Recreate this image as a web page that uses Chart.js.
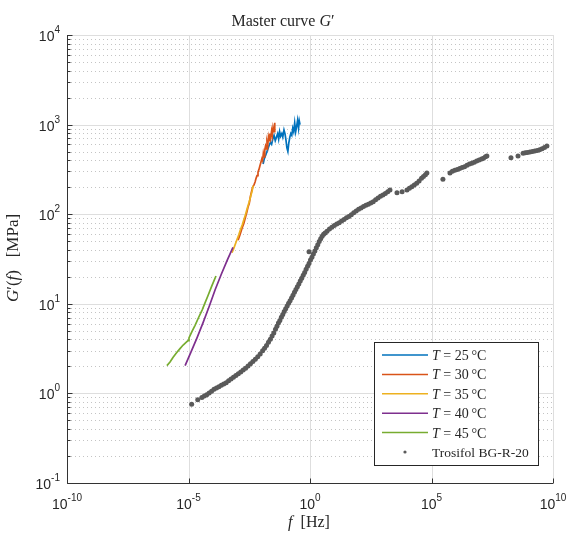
<!DOCTYPE html>
<html>
<head>
<meta charset="utf-8">
<script src="https://cdn.jsdelivr.net/npm/chart.js@4.4.1/dist/chart.umd.min.js"></script>
<style>
  html, body { margin: 0; padding: 0; background: #fff; }
  #wrap { width: 569px; height: 538px; position: relative; }
</style>
</head>
<body>
<div id="wrap"><canvas id="masterCurve"></canvas></div>
<script>
// --- ticks (decades) ---
const xTicks = [1e-10, 1e-5, 1, 1e5, 1e10];
const xTickExp = ['-10', '-5', '0', '5', '10'];
const yTicks = [0.1, 1, 10, 100, 1000, 10000];
const yTickExp = ['-1', '0', '1', '2', '3', '4'];

// --- series as log10 values ---
const temps = [25, 30, 35, 40, 45];
const colors = ['#0072BD', '#D95319', '#EDB120', '#7E2F8E', '#77AC30'];

const logF25 = [-1.93,-1.88,-1.82,-1.77,-1.72,-1.68,-1.63,-1.58,-1.53,-1.48,-1.43,-1.38,-1.33,-1.29,-1.25,-1.21,-1.16,-1.12,-1.07,-1.03,-0.99,-0.95,-0.91,-0.87,-0.83,-0.79,-0.75,-0.71,-0.67,-0.63,-0.59,-0.55,-0.51,-0.47,-0.44,-0.41];
const logG25 = [2.56,2.62,2.66,2.70,2.74,2.77,2.80,2.78,2.84,2.88,2.82,2.86,2.90,2.84,2.92,2.87,2.90,2.86,2.94,2.90,2.83,2.74,2.70,2.80,2.86,2.90,2.88,2.96,2.92,3.02,2.92,2.98,3.05,2.96,3.04,3.00];

const logF30 = [-2.96,-2.88,-2.80,-2.72,-2.65,-2.60,-2.55,-2.50,-2.45,-2.40,-2.36,-2.30,-2.26,-2.22,-2.18,-2.14,-2.10,-2.06,-2.02,-1.98,-1.95,-1.92,-1.89,-1.86,-1.83,-1.80,-1.77,-1.74,-1.71,-1.68,-1.65,-1.62,-1.58,-1.55,-1.52,-1.48,-1.45];
const logG30 = [1.71,1.77,1.84,1.90,1.97,2.02,2.08,2.12,2.20,2.26,2.30,2.33,2.36,2.40,2.43,2.47,2.50,2.54,2.58,2.62,2.60,2.68,2.64,2.72,2.76,2.73,2.80,2.76,2.86,2.82,2.90,2.85,2.93,2.88,2.97,2.92,3.02];

const logF35 = [-3.21,-3.15,-3.08,-3.00,-2.93,-2.86,-2.79,-2.72,-2.65,-2.58,-2.51,-2.44,-2.38,-2.34];
const logG35 = [1.57,1.61,1.66,1.72,1.77,1.83,1.88,1.94,2.00,2.07,2.13,2.20,2.26,2.32];

const logF40 = [-5.14,-4.90,-4.65,-4.40,-4.15,-3.90,-3.65,-3.40,-3.17];
const logG40 = [0.31,0.46,0.62,0.79,0.97,1.16,1.33,1.49,1.63];

const logF45 = [-5.89,-5.76,-5.64,-5.50,-5.35,-5.22,-5.10,-5.02,-4.98,-4.86,-4.73,-4.58,-4.44,-4.32,-4.20,-4.04,-3.87];
const logG45 = [0.31,0.35,0.40,0.45,0.50,0.54,0.57,0.59,0.62,0.69,0.76,0.85,0.93,1.01,1.09,1.20,1.31];

// Trosifol BG-R-20 measured points
const logFT = [-4.87,-4.62,-4.45,-4.35,-4.25,-4.15,-4.05,-3.95,-3.85,-3.75,-3.65,-3.55,-3.45,-3.35,-3.25,-3.15,-3.05,-2.95,-2.85,-2.75,-2.65,-2.55,-2.45,-2.35,-2.25,-2.15,-2.05,-1.95,-1.87,-1.79,-1.71,-1.63,-1.56,-1.49,-1.42,-1.36,-1.30,-1.24,-1.18,-1.12,-1.06,-1.00,-0.94,-0.88,-0.82,-0.76,-0.70,-0.64,-0.58,-0.52,-0.46,-0.40,-0.34,-0.28,-0.22,-0.16,-0.10,-0.04,0.02,0.08,0.14,0.20,0.26,0.32,0.38,0.44,0.50,0.56,0.62,0.70,0.80,0.90,1.00,1.10,1.20,1.30,1.40,1.50,1.60,1.70,1.80,1.90,2.00,2.10,2.20,2.30,2.40,2.50,2.60,2.70,2.80,2.90,3.00,3.10,3.20,3.29,-0.04,3.58,3.79,3.99,4.09,4.19,4.29,4.39,4.49,4.59,4.67,4.75,4.81,5.47,5.76,5.86,5.96,6.06,6.16,6.26,6.36,6.46,6.56,6.66,6.76,6.86,6.96,7.06,7.14,7.22,7.28,8.27,8.56,8.77,8.86,8.95,9.05,9.15,9.25,9.35,9.45,9.55,9.65,9.75];
const logGT = [-0.12,-0.07,-0.045,-0.03,-0.015,0.005,0.025,0.045,0.06,0.075,0.09,0.105,0.12,0.14,0.16,0.18,0.20,0.22,0.24,0.26,0.28,0.305,0.33,0.355,0.38,0.41,0.44,0.475,0.505,0.535,0.57,0.605,0.64,0.675,0.715,0.75,0.785,0.815,0.85,0.88,0.915,0.945,0.975,1.005,1.035,1.065,1.095,1.13,1.16,1.19,1.22,1.255,1.285,1.32,1.35,1.385,1.42,1.45,1.49,1.52,1.555,1.59,1.625,1.66,1.695,1.725,1.755,1.775,1.79,1.81,1.835,1.855,1.875,1.89,1.905,1.925,1.94,1.96,1.975,1.995,2.015,2.035,2.055,2.07,2.085,2.10,2.11,2.125,2.14,2.16,2.18,2.20,2.215,2.23,2.25,2.27,1.58,2.24,2.25,2.27,2.29,2.305,2.325,2.345,2.37,2.40,2.42,2.44,2.46,2.39,2.46,2.48,2.49,2.50,2.51,2.52,2.53,2.545,2.56,2.57,2.58,2.595,2.605,2.615,2.625,2.64,2.65,2.63,2.65,2.68,2.685,2.69,2.695,2.70,2.705,2.71,2.72,2.73,2.745,2.76];

const toPoints = (lf, lg) => lf.map((v, i) => ({ x: Math.pow(10, v), y: Math.pow(10, lg[i]) }));

const curveF = [logF25, logF30, logF35, logF40, logF45];
const curveG = [logG25, logG30, logG35, logG40, logG45];

const SERIF = '"Liberation Serif", "DejaVu Serif", serif';
const SANS = '"Liberation Sans", Arial, sans-serif';

// draw a list of text pieces (different fonts) one after another
function drawRuns(ctx, runs, x, y, align) {
    let total = 0;
    runs.forEach(r => { ctx.font = r.font; r.w = ctx.measureText(r.text).width; total += r.w; });
    let cx = align === 'center' ? x - total / 2 : (align === 'right' ? x - total : x);
    runs.forEach(r => {
        ctx.font = r.font;
        ctx.fillText(r.text, cx, y + (r.dy || 0));
        cx += r.w;
    });
    return total;
}

const powerRuns = exp => [
    { text: '10', font: '14px ' + SANS },
    { text: exp, font: '10px ' + SANS, dy: -8 }
];

const matlabAxes = {
    id: 'matlabAxes',
    beforeDatasetsDraw(chart) {
        const { ctx, chartArea: a, scales: { x, y } } = chart;
        ctx.save();
        ctx.lineWidth = 1;

        // minor y grid, dotted
        ctx.strokeStyle = '#c4c4c4';
        ctx.setLineDash([1, 3]);
        for (let i = 0; i < yTicks.length - 1; i++) {
            for (let m = 2; m <= 9; m++) {
                const py = Math.round(y.getPixelForValue(yTicks[i] * m)) + 0.5;
                ctx.beginPath(); ctx.moveTo(a.left, py); ctx.lineTo(a.right, py); ctx.stroke();
            }
        }
        ctx.setLineDash([]);

        // major grid
        ctx.strokeStyle = '#dedede';
        yTicks.forEach(v => {
            const py = Math.round(y.getPixelForValue(v)) + 0.5;
            ctx.beginPath(); ctx.moveTo(a.left, py); ctx.lineTo(a.right, py); ctx.stroke();
        });
        xTicks.forEach(v => {
            const px = Math.round(x.getPixelForValue(v)) + 0.5;
            ctx.beginPath(); ctx.moveTo(px, a.top); ctx.lineTo(px, a.bottom); ctx.stroke();
        });
        ctx.restore();
    },
    afterDraw(chart) {
        const { ctx, chartArea: a, scales: { x, y } } = chart;
        ctx.save();
        ctx.strokeStyle = '#333';
        ctx.fillStyle = '#262626';
        ctx.lineWidth = 1;

        // left + bottom axis lines
        const L = Math.round(a.left) + 0.5, B = Math.round(a.bottom) + 0.5;
        ctx.beginPath();
        ctx.moveTo(L, a.top); ctx.lineTo(L, B); ctx.lineTo(a.right, B);
        ctx.stroke();

        // tick marks (inside)
        ctx.beginPath();
        yTicks.forEach((v, i) => {
            const py = Math.round(y.getPixelForValue(v)) + 0.5;
            ctx.moveTo(L, py); ctx.lineTo(L + 5, py);
            if (i < yTicks.length - 1) {
                for (let m = 2; m <= 9; m++) {
                    const pm = Math.round(y.getPixelForValue(v * m)) + 0.5;
                    ctx.moveTo(L, pm); ctx.lineTo(L + 3, pm);
                }
            }
        });
        xTicks.forEach(v => {
            const px = Math.round(x.getPixelForValue(v)) + 0.5;
            ctx.moveTo(px, B); ctx.lineTo(px, B - 5);
        });
        ctx.stroke();

        // tick labels
        ctx.textBaseline = 'alphabetic';
        yTicks.forEach((v, i) => {
            drawRuns(ctx, powerRuns(yTickExp[i]), 60, y.getPixelForValue(v) + 6, 'right');
        });
        xTicks.forEach((v, i) => {
            drawRuns(ctx, powerRuns(xTickExp[i]), x.getPixelForValue(v), 509, 'center');
        });

        // title
        drawRuns(ctx, [
            { text: 'Master curve ', font: '16px ' + SERIF },
            { text: 'G', font: 'italic 16px ' + SERIF },
            { text: '\u2032', font: '16px ' + SERIF }
        ], 283, 26, 'center');

        // x title
        drawRuns(ctx, [
            { text: 'f', font: 'italic 16px ' + SERIF },
            { text: '  [Hz]', font: '16px ' + SERIF }
        ], 309, 527, 'center');

        // y title (rotated)
        ctx.save();
        ctx.translate(18, 258);
        ctx.rotate(-Math.PI / 2);
        drawRuns(ctx, [
            { text: 'G', font: 'italic 17px ' + SERIF },
            { text: '\u2032', font: '17px ' + SERIF },
            { text: '(', font: '17px ' + SERIF },
            { text: 'f', font: 'italic 17px ' + SERIF },
            { text: ')   [MPa]', font: '17px ' + SERIF }
        ], 0, 0, 'center');
        ctx.restore();

        // legend
        const lx = 374.5, ly = 342.5, lw = 164, lh = 123;
        ctx.fillStyle = '#fff';
        ctx.fillRect(lx, ly, lw, lh);
        ctx.strokeStyle = '#262626';
        ctx.strokeRect(lx, ly, lw, lh);
        chart.data.datasets.forEach((ds, i) => {
            const ry = 355 + i * 19.4;
            if (ds.showLine === false) {
                ctx.fillStyle = ds.backgroundColor;
                ctx.beginPath(); ctx.arc(405, ry, 1.6, 0, Math.PI * 2); ctx.fill();
            } else {
                ctx.strokeStyle = ds.borderColor;
                ctx.lineWidth = 1.5;
                ctx.beginPath(); ctx.moveTo(382, ry); ctx.lineTo(428, ry); ctx.stroke();
            }
            ctx.fillStyle = '#262626';
            const runs = ds.label.startsWith('T ')
                ? [{ text: 'T', font: 'italic 14px ' + SERIF }, { text: ds.label.slice(1), font: '14px ' + SERIF }]
                : [{ text: ds.label, font: '13.5px ' + SERIF }];
            drawRuns(ctx, runs, 432, ry + 5, 'left');
        });
        ctx.restore();
    }
};

const datasets = temps.map((t, i) => ({
    label: 'T = ' + t + '\u2009\u00B0C',
    data: toPoints(curveF[i], curveG[i]),
    borderColor: colors[i],
    backgroundColor: colors[i],
    borderWidth: 1.7,
    pointRadius: 0,
    showLine: true,
    tension: 0,
    order: 5 - i
}));
datasets.push({
    label: 'Trosifol BG-R-20',
    data: toPoints(logFT, logGT),
    backgroundColor: '#5a5a5a',
    borderWidth: 0,
    pointRadius: 2.5,
    showLine: false,
    order: 10
});

new Chart(document.getElementById('masterCurve'), {
    type: 'scatter',
    data: { datasets },
    options: {
        responsive: true,
        maintainAspectRatio: false,
        animation: false,
        layout: { padding: { top: 35, right: 16, left: 0, bottom: 0 } },
        plugins: {
            legend: { display: false },
            tooltip: { enabled: false },
            title: { display: false }
        },
        scales: {
            x: {
                type: 'logarithmic',
                min: 1e-10,
                max: 1e10,
                grid: { display: false },
                border: { display: false },
                ticks: { display: false },
                afterFit: s => { s.height = 55; }
            },
            y: {
                type: 'logarithmic',
                min: 0.1,
                max: 10000,
                grid: { display: false },
                border: { display: false },
                ticks: { display: false },
                afterFit: s => { s.width = 67; }
            }
        }
    },
    plugins: [matlabAxes]
});
</script>
</body>
</html>
